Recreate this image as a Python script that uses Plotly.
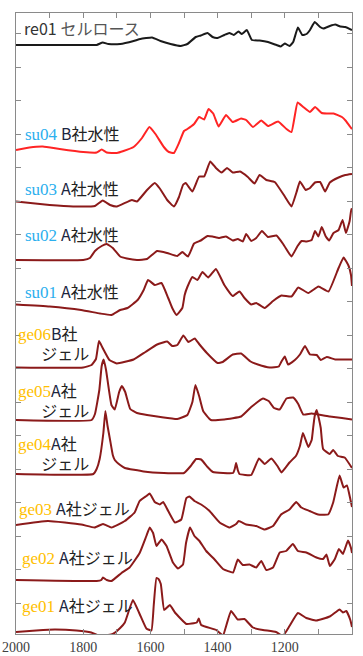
import plotly.graph_objects as go

# IR spectra (wavenumber cm-1, stacked intensity in arbitrary units)
re01 = [(2000, 589), (1900, 589), (1800, 589), (1760, 589), (1742, 591.5), (1725, 590), (1690, 590),
        (1650, 593), (1630, 595), (1595, 596.5), (1570, 593), (1540, 590), (1510, 588), (1490, 590),
        (1465, 597), (1450, 598.5), (1430, 601), (1415, 597), (1400, 596), (1380, 599), (1365, 601),
        (1352, 599), (1338, 602.5), (1328, 600), (1313, 604), (1298, 594), (1275, 593.5), (1250, 592),
        (1225, 589), (1212, 587.5), (1200, 590.5), (1186, 588), (1175, 592), (1161, 606.5), (1148, 599),
        (1135, 600), (1125, 604), (1111, 612), (1095, 607), (1085, 605.5), (1066, 608), (1050, 609.5),
        (1035, 607.5), (1020, 607), (1000, 604)]

su04 = [(2000, 484), (1960, 486.5), (1920, 487.5), (1870, 485), (1800, 482), (1760, 481.5), (1745, 484.5),
        (1730, 481.5), (1700, 481), (1680, 483), (1650, 487), (1625, 496), (1603, 507), (1585, 500),
        (1560, 487), (1545, 482), (1530, 481), (1515, 491), (1500, 503), (1490, 505), (1470, 510),
        (1455, 517), (1440, 514.5), (1427, 525), (1413, 520.5), (1397, 507.5), (1375, 519), (1355, 512),
        (1330, 515.5), (1315, 514), (1295, 507), (1270, 513.5), (1250, 508), (1220, 512.5), (1195, 505),
        (1180, 502), (1162, 531.5), (1145, 527), (1125, 522), (1110, 527), (1090, 521), (1075, 520.5),
        (1055, 520.5), (1030, 517), (1018, 513), (1005, 507), (1000, 505)]

su03 = [(2000, 432.5), (1900, 429), (1830, 427.5), (1765, 428), (1742, 433.5), (1720, 429), (1700, 427.5),
        (1655, 434), (1640, 432.5), (1610, 444), (1587, 451), (1572, 445.5), (1550, 434), (1530, 427.5),
        (1515, 437), (1503, 449), (1495, 451), (1475, 442.5), (1455, 457.5), (1440, 457.5), (1422, 472.5),
        (1405, 466), (1388, 461.5), (1372, 466), (1355, 461.5), (1333, 462.5), (1310, 457), (1290, 450.5),
        (1275, 459), (1255, 454), (1230, 452), (1200, 437.5), (1180, 427.5), (1165, 442), (1155, 452.5),
        (1138, 444), (1125, 446), (1110, 451.5), (1095, 452), (1080, 442.5), (1066, 451.5), (1040, 456.5),
        (1020, 459), (1000, 460)]

su02 = [(2000, 374), (1800, 374), (1780, 376), (1765, 383), (1745, 388), (1730, 390), (1712, 386),
        (1690, 377.5), (1670, 375.5), (1640, 374), (1610, 375), (1580, 383), (1550, 381), (1520, 378),
        (1505, 382), (1488, 377.5), (1470, 390.5), (1450, 393.5), (1430, 398), (1415, 397.5), (1395, 396),
        (1375, 397.5), (1355, 393.5), (1340, 395), (1325, 392.5), (1315, 400), (1300, 393), (1285, 396),
        (1268, 403), (1250, 397), (1225, 398.5), (1205, 390), (1190, 382), (1180, 377.5), (1162, 388),
        (1150, 393), (1135, 392.5), (1120, 394), (1110, 403), (1100, 397.5), (1090, 407), (1078, 397.5),
        (1068, 393.5), (1055, 401), (1040, 404), (1028, 414), (1018, 401), (1007, 413), (1002, 425),
        (1000, 424)]

su01 = [(2000, 329.5), (1900, 327.5), (1806, 324), (1750, 320.5), (1716, 319), (1690, 324), (1668, 326),
        (1638, 334), (1620, 344), (1607, 354), (1587, 349), (1567, 351), (1547, 336), (1535, 326),
        (1522, 319), (1505, 326), (1498, 339), (1490, 347), (1475, 357), (1460, 354), (1445, 362),
        (1428, 356.5), (1405, 365), (1380, 349), (1355, 338), (1335, 342.5), (1320, 336), (1300, 329.5),
        (1285, 331), (1260, 326), (1235, 333), (1210, 338.5), (1180, 337.5), (1160, 346.5), (1130, 341),
        (1100, 347.5), (1070, 342.5), (1040, 366), (1025, 376.5), (1010, 368), (1003, 359), (1000, 348)]

ge06 = [(2000, 266.5), (1800, 266.5), (1775, 269), (1762, 275), (1753, 293), (1742, 286), (1722, 274),
        (1700, 270.5), (1650, 274.5), (1615, 282), (1580, 289.5), (1550, 292.5), (1535, 288), (1520, 289),
        (1502, 298.5), (1487, 292), (1468, 295.5), (1455, 290), (1432, 281), (1400, 271), (1385, 272),
        (1355, 279.5), (1330, 280.5), (1302, 272.5), (1280, 269.5), (1245, 266.5), (1218, 267.5),
        (1210, 272.5), (1200, 277.5), (1190, 269.5), (1170, 274), (1155, 279.5), (1140, 288), (1125, 279.5),
        (1105, 279), (1093, 274), (1075, 277), (1050, 274.5), (1000, 274.5)]

ge05 = [(2000, 214), (1775, 214), (1765, 220), (1752, 244), (1745, 268), (1739, 274.5), (1732, 264),
        (1716, 229), (1706, 224.5), (1693, 242), (1685, 248), (1675, 242), (1660, 225), (1640, 221),
        (1610, 219), (1570, 217), (1520, 215), (1490, 219), (1475, 232), (1466, 249), (1455, 238),
        (1443, 223), (1420, 214), (1380, 214.5), (1330, 217.5), (1300, 227), (1265, 235.5), (1248, 233),
        (1232, 226), (1215, 224.5), (1195, 235.5), (1175, 236.5), (1160, 230), (1145, 219.5), (1120, 220.5),
        (1066, 217.5), (1030, 216), (1000, 214.5)]

ge04 = [(2000, 160), (1770, 160), (1760, 165), (1751, 175), (1740, 201), (1734, 223), (1728, 209),
        (1720, 194), (1712, 179), (1706, 174), (1690, 169), (1676, 166), (1620, 162.5), (1560, 161),
        (1500, 161), (1480, 168), (1464, 175), (1449, 174.5), (1430, 167), (1414, 162), (1354, 161),
        (1349, 165), (1345, 171), (1340, 164), (1335, 160), (1300, 159), (1277, 175.5), (1260, 170),
        (1240, 175.5), (1222, 168), (1210, 161.5), (1186, 171.5), (1167, 178), (1155, 188), (1146, 201),
        (1130, 187), (1120, 194), (1116, 205), (1111, 218), (1105, 224), (1099, 216), (1093, 206),
        (1086, 185), (1066, 180), (1056, 184), (1042, 178), (1022, 176.5), (1000, 166)]

ge03 = [(2000, 109), (1905, 113), (1806, 109.5), (1766, 106.5), (1741, 110), (1716, 106.5), (1676, 113),
        (1647, 121.5), (1632, 133), (1612, 138), (1602, 140.5), (1587, 132), (1572, 129.5), (1562, 132),
        (1547, 123), (1527, 111.5), (1508, 114.5), (1493, 136), (1484, 137.5), (1469, 133), (1449, 129.5),
        (1424, 123), (1394, 111.5), (1364, 106.5), (1345, 110), (1337, 113), (1315, 109.5), (1285, 108),
        (1260, 104.5), (1235, 108), (1211, 119.5), (1186, 124.5), (1166, 132), (1151, 126.5), (1126, 123),
        (1101, 119.5), (1071, 119.5), (1056, 131.5), (1037, 158.5), (1025, 146.5), (1015, 148.5),
        (1005, 135), (1000, 127)]

ge02 = [(2000, 54), (1760, 53), (1746, 54), (1741, 56.5), (1730, 54), (1716, 53), (1686, 61), (1662, 66.5),
        (1632, 81), (1612, 98), (1602, 106.5), (1592, 101), (1582, 88), (1567, 94.5), (1552, 88),
        (1533, 71.5), (1518, 65.5), (1503, 69.5), (1494, 91), (1482, 106.5), (1469, 98), (1454, 93),
        (1434, 83), (1409, 74.5), (1384, 65), (1354, 61.5), (1340, 74.5), (1325, 69), (1305, 69.5),
        (1285, 66.5), (1270, 73), (1255, 64), (1235, 66.5), (1215, 81.5), (1196, 83), (1176, 90),
        (1161, 83), (1136, 81.5), (1106, 76.5), (1086, 75), (1076, 79.5), (1066, 68), (1051, 75),
        (1039, 85), (1027, 80), (1012, 93.5), (1003, 86), (1000, 81)]

ge01 = [(2000, 2), (1940, 3.5), (1885, 4.5), (1820, 3.5), (1776, 1.5), (1750, -2), (1712, 0), (1690, 6),
        (1676, 11.5), (1652, 34), (1632, 20), (1612, 5.5), (1597, 3.5), (1590, 29), (1582, 56), (1576, 55),
        (1569, 50), (1559, 24), (1542, 29), (1527, 21.5), (1493, 10), (1462, 11.5), (1456, 15.5),
        (1449, 9), (1404, 4), (1390, 0), (1384, -2), (1360, 23), (1340, 14.5), (1320, 15), (1295, 6.5),
        (1265, 4), (1226, 2), (1206, -2), (1186, 8), (1161, 21), (1136, 16), (1106, 13.5), (1066, 17.5),
        (1037, 24.5), (1027, 21.5), (1017, 23), (1005, 14), (1000, 7)]

SKY = "#2BAFEE"
GOLD = "#FFC000"
DARK_RED = "#8B1A1A"

series = [
    (re01, "#1a1a1a"), (su04, "#FF2424"), (su03, DARK_RED), (su02, DARK_RED), (su01, DARK_RED),
    (ge06, DARK_RED), (ge05, DARK_RED), (ge04, DARK_RED), (ge03, DARK_RED), (ge02, DARK_RED),
    (ge01, DARK_RED),
]

fig = go.Figure()
for data, color in series:
    wn, val = zip(*data)
    fig.add_trace(go.Scatter(x=list(wn), y=list(val), mode="lines",
                             line=dict(color=color, width=2, shape="spline", smoothing=0.35),
                             hoverinfo="skip"))

JP = "font-family:Noto Sans CJK JP;font-size:16px"


def code(text, color):
    return f'<span style="font-size:17px;color:{color}">{text}</span>'


def jp(text, color="#222"):
    return f'<span style="{JP};color:{color}">{text}</span>'


def company(letter, rest):
    return jp(letter, "#1c2540") + jp(rest)


INDENT = "\u3000\u00a0\u00a0"

# sample labels: (wavenumber, level, text)
labels = [
    (1981, 606, jp("re01", "#333") + " " + jp("セルロース", "#555")),
    (1978, 501, code("su04", SKY) + " " + company("B", "社水性")),
    (1978, 446, code("su03", SKY) + " " + company("A", "社水性")),
    (1978, 400, code("su02", SKY) + " " + company("A", "社水性")),
    (1978, 343, code("su01", SKY) + " " + company("A", "社水性")),
    (1999, 291, code("ge06", GOLD) + company("B", "社") + "<br>" + jp(INDENT + "ジェル")),
    (1999, 234.5, code("ge05", GOLD) + company("A", "社") + "<br>" + jp(INDENT + "ジェル")),
    (1999, 181, code("ge04", GOLD) + company("A", "社") + "<br>" + jp(INDENT + "ジェル")),
    (1996, 126, code("ge03", GOLD) + " " + company("A", "社ジェル")),
    (1988, 77, code("ge02", GOLD) + " " + company("A", "社ジェル")),
    (1988, 29, code("ge01", GOLD) + " " + company("A", "社ジェル")),
]
for x, y, text in labels:
    fig.add_annotation(x=x, y=y, text=text, showarrow=False, xanchor="left", yanchor="middle",
                       align="left", font=dict(family="Liberation Serif", size=15.5, color="#222"))

AXIS_GRAY = "#8a8a8a"
fig.update_xaxes(range=[2000, 1000], tick0=1000, dtick=200, ticks="inside", ticklen=5,
                 tickcolor=AXIS_GRAY, showline=True, linecolor=AXIS_GRAY, linewidth=1, mirror="ticks",
                 showgrid=False, zeroline=False, automargin=False,
                 minor=dict(dtick=100, tick0=1000, ticks="inside", ticklen=5, tickcolor=AXIS_GRAY,
                            showgrid=False),
                 tickfont=dict(family="Liberation Serif", size=14, color="#404040"))
fig.update_yaxes(range=[0, 621], tick0=31, dtick=33.5, ticks="inside", ticklen=5, tickcolor=AXIS_GRAY,
                 showticklabels=False, showline=True, linecolor=AXIS_GRAY, linewidth=1, mirror="ticks",
                 showgrid=False, zeroline=False, automargin=False)
fig.update_layout(width=363, height=656, margin=dict(l=16, r=11, t=13, b=22), showlegend=False,
                  paper_bgcolor="white", plot_bgcolor="white")

fig.write_html("out.html")
